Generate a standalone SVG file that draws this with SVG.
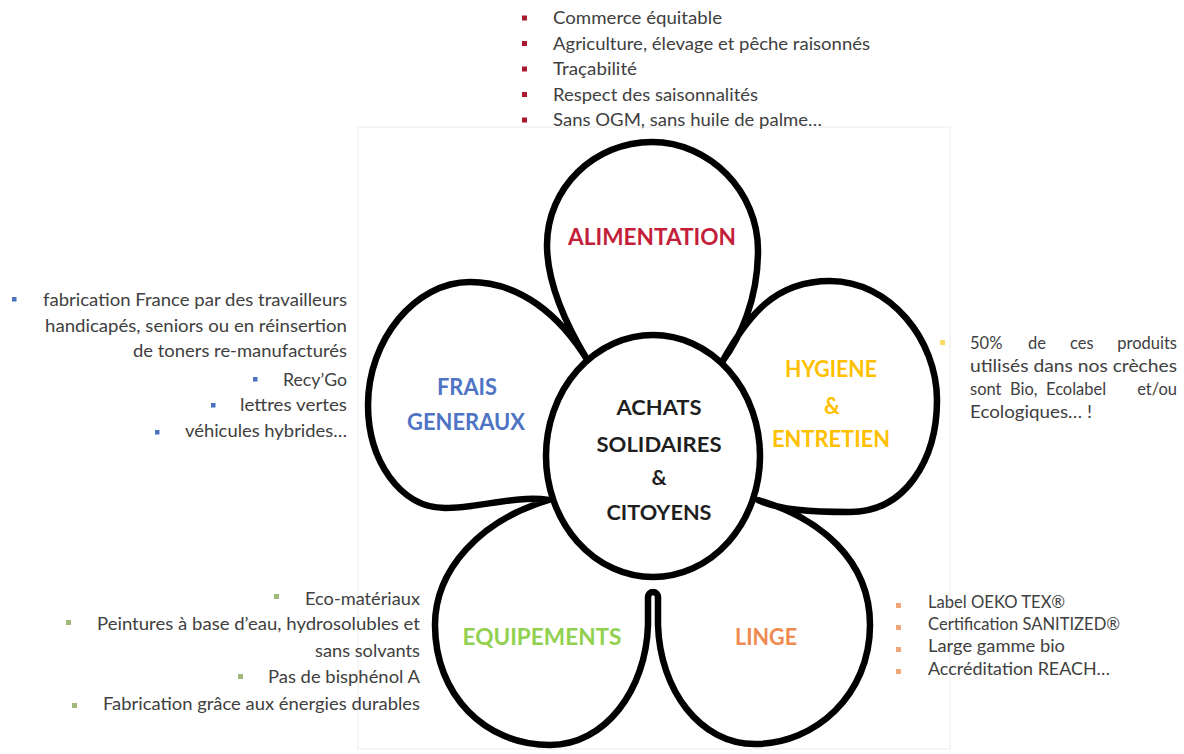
<svg xmlns="http://www.w3.org/2000/svg" width="1184" height="754" viewBox="0 0 1184 754">
<style>
.t{font-family:Lato,"Liberation Sans",sans-serif;font-size:16.5px;fill:#404040}
.lb{font-family:Lato,"Liberation Sans",sans-serif;font-weight:bold;font-size:22px;text-anchor:middle}
.cb{font-family:Lato,"Liberation Sans",sans-serif;font-weight:bold;font-size:21px;text-anchor:middle;fill:#1f1f1f}
.e{text-anchor:end}
.outline{fill:#fff;stroke:#000;stroke-width:6.5;stroke-linejoin:round;stroke-linecap:round}
.b1{fill:#a8182e}.b2{fill:#4a72c0}.b3{fill:#ffd966}.b4{fill:#9fb97c}.b5{fill:#f2a77a}
</style>
<rect width="1184" height="754" fill="#fff"/>
<rect x="358" y="127" width="592" height="622" fill="none" stroke="#f2f2f2" stroke-width="1.5"/>
<g id="flower-outline">
<path class="outline" d="M588,361 C574,338 547,290 547,245 C547,188 594,142 652,142 C710,142 758,192 758,250 C758,300 740,338 722,362 C748,315 775,281 830,281 C890,281 937,340 937,400 C937,460 905,512 850,512 C810,512 780,510 758,500 C820,518 870,560 870,625 C870,695 815,744 755,744 C700,744 660,690 658,625 L658,597 A5,5 0 0 0 648,597 L648,625 C646,690 605,745 550,745 C485,745 435,695 435,625 C435,570 480,520 549,500 C515,495 480,508 445,508 C400,508 368,460 368,405 C368,340 415,282 470,282 C520,282 560,315 588,361 Z"/>
</g>
<g id="connectors"></g>
<g id="node-center">
<ellipse class="outline" cx="653" cy="456" rx="107" ry="121"/>
<text class="cb" x="659" y="415" textLength="85" lengthAdjust="spacingAndGlyphs">ACHATS</text>
<text class="cb" x="659" y="452" textLength="125" lengthAdjust="spacingAndGlyphs">SOLIDAIRES</text>
<text class="cb" x="659" y="485">&amp;</text>
<text class="cb" x="659" y="520" textLength="105" lengthAdjust="spacingAndGlyphs">CITOYENS</text>
</g>
<g id="node-alimentation">
<text class="lb" x="652" y="245" fill="#c41e3a" textLength="168" lengthAdjust="spacingAndGlyphs">ALIMENTATION</text>
<rect class="b1" x="522" y="15.5" width="5" height="5"/>
<rect class="b1" x="522" y="41" width="5" height="5"/>
<rect class="b1" x="522" y="66.5" width="5" height="5"/>
<rect class="b1" x="522" y="92" width="5" height="5"/>
<rect class="b1" x="522" y="117.5" width="5" height="5"/>
<text class="t" x="553" y="24" textLength="169" lengthAdjust="spacingAndGlyphs">Commerce équitable</text>
<text class="t" x="553" y="49.5" textLength="317" lengthAdjust="spacingAndGlyphs">Agriculture, élevage et pêche raisonnés</text>
<text class="t" x="553" y="75" textLength="84" lengthAdjust="spacingAndGlyphs">Traçabilité</text>
<text class="t" x="553" y="100.5" textLength="205" lengthAdjust="spacingAndGlyphs">Respect des saisonnalités</text>
<text class="t" x="553" y="126" textLength="269" lengthAdjust="spacingAndGlyphs">Sans OGM, sans huile de palme…</text>
</g>
<g id="node-frais-generaux">
<text class="lb" x="467" y="395" fill="#4f74c4" textLength="60" lengthAdjust="spacingAndGlyphs">FRAIS</text>
<text class="lb" x="466" y="430" fill="#4f74c4" textLength="118" lengthAdjust="spacingAndGlyphs">GENERAUX</text>
<rect class="b2" x="12" y="297" width="4.5" height="4.5"/>
<rect class="b2" x="253" y="377" width="4.5" height="4.5"/>
<rect class="b2" x="211" y="403" width="4.5" height="4.5"/>
<rect class="b2" x="155" y="430" width="4.5" height="4.5"/>
<text class="t e" x="347" y="306" textLength="304" lengthAdjust="spacingAndGlyphs">fabrication France par des travailleurs</text>
<text class="t e" x="347" y="332" textLength="302" lengthAdjust="spacingAndGlyphs">handicapés, seniors ou en réinsertion</text>
<text class="t e" x="347" y="357" textLength="214" lengthAdjust="spacingAndGlyphs">de toners re-manufacturés</text>
<text class="t e" x="347" y="386" textLength="64" lengthAdjust="spacingAndGlyphs">Recy’Go</text>
<text class="t e" x="347" y="411" textLength="107" lengthAdjust="spacingAndGlyphs">lettres vertes</text>
<text class="t e" x="347" y="437" textLength="162" lengthAdjust="spacingAndGlyphs">véhicules hybrides…</text>
</g>
<g id="node-hygiene">
<text class="lb" x="831" y="377" fill="#ffc000" textLength="92" lengthAdjust="spacingAndGlyphs">HYGIENE</text>
<text class="lb" x="832" y="414" fill="#ffc000">&amp;</text>
<text class="lb" x="831" y="447" fill="#ffc000" textLength="118" lengthAdjust="spacingAndGlyphs">ENTRETIEN</text>
<rect class="b3" x="940" y="340" width="5" height="5"/>
<text class="t" x="970" y="349">50%</text>
<text class="t" x="1028" y="349">de</text>
<text class="t" x="1070" y="349">ces</text>
<text class="t e" x="1177" y="349">produits</text>
<text class="t" x="970" y="372" textLength="207" lengthAdjust="spacingAndGlyphs">utilisés dans nos crèches</text>
<text class="t" x="970" y="395">sont</text>
<text class="t" x="1010" y="395">Bio,</text>
<text class="t" x="1046" y="395">Ecolabel</text>
<text class="t e" x="1177" y="395">et/ou</text>
<text class="t" x="970" y="418" textLength="122" lengthAdjust="spacingAndGlyphs">Ecologiques… !</text>
</g>
<g id="node-equipements">
<text class="lb" x="542" y="645" fill="#92d050" textLength="159" lengthAdjust="spacingAndGlyphs">EQUIPEMENTS</text>
<rect class="b4" x="274" y="594" width="5" height="5"/>
<rect class="b4" x="66" y="620" width="5" height="5"/>
<rect class="b4" x="238" y="674" width="5" height="5"/>
<rect class="b4" x="72" y="703" width="5" height="5"/>
<text class="t e" x="420" y="605" textLength="115" lengthAdjust="spacingAndGlyphs">Eco-matériaux</text>
<text class="t e" x="420" y="630" textLength="323" lengthAdjust="spacingAndGlyphs">Peintures à base d’eau, hydrosolubles et</text>
<text class="t e" x="420" y="657" textLength="105" lengthAdjust="spacingAndGlyphs">sans solvants</text>
<text class="t e" x="420" y="683" textLength="152" lengthAdjust="spacingAndGlyphs">Pas de bisphénol A</text>
<text class="t e" x="420" y="710" textLength="317" lengthAdjust="spacingAndGlyphs">Fabrication grâce aux énergies durables</text>
</g>
<g id="node-linge">
<text class="lb" x="766" y="645" fill="#ef8a50" textLength="62" lengthAdjust="spacingAndGlyphs">LINGE</text>
<rect class="b5" x="896" y="603" width="5" height="5"/>
<rect class="b5" x="896" y="625" width="5" height="5"/>
<rect class="b5" x="896" y="647" width="5" height="5"/>
<rect class="b5" x="896" y="669" width="5" height="5"/>
<text class="t" x="928" y="608" textLength="137" lengthAdjust="spacingAndGlyphs">Label OEKO TEX®</text>
<text class="t" x="928" y="630" textLength="192" lengthAdjust="spacingAndGlyphs">Certification SANITIZED®</text>
<text class="t" x="928" y="652" textLength="137" lengthAdjust="spacingAndGlyphs">Large gamme bio</text>
<text class="t" x="928" y="675" textLength="182" lengthAdjust="spacingAndGlyphs">Accréditation REACH…</text>
</g>
</svg>
